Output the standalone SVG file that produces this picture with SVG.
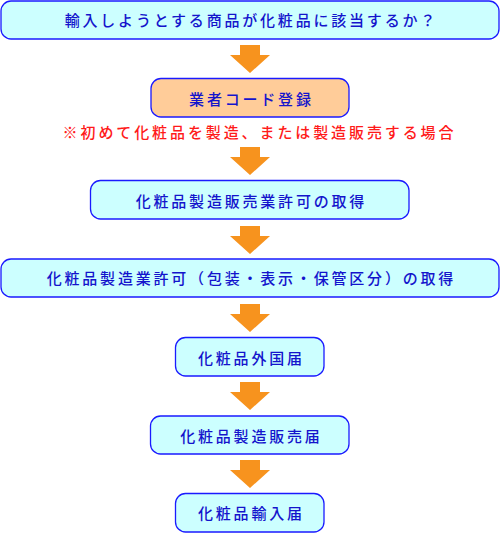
<svg xmlns="http://www.w3.org/2000/svg" width="500" height="533" viewBox="0 0 500 533">
<defs>
<style>
.box{fill:#CCFFFF;stroke:#1A1AFF;stroke-width:1.3}
.obox{fill:#FFCC99;stroke:#1A1AFF;stroke-width:1.3}
.t{font-family:"Noto Sans CJK JP","Noto Sans",sans-serif;font-size:15px;font-weight:500;fill:#1414CC;text-anchor:middle;letter-spacing:2.8px}
.note{font-family:"Noto Sans CJK JP","Noto Sans",sans-serif;font-size:15px;font-weight:500;fill:#FF1A1A;text-anchor:middle;letter-spacing:2.9px}
.arr{fill:#F7931E}
</style>
<path id="ar" d="M-10,0 H10 V10 H20 L0,28 L-20,10 H-10 Z"/>
</defs>
<rect width="500" height="533" fill="#FFFFFF"/>
<g id="connectors" class="arr">
<use href="#ar" x="250" y="45"/>
<use href="#ar" x="250" y="147"/>
<use href="#ar" x="250" y="226"/>
<use href="#ar" x="250" y="304"/>
<use href="#ar" x="250" y="382"/>
<use href="#ar" x="250" y="460"/>
</g>
<g id="n1"><rect class="box" x="1" y="1" width="498" height="38" rx="10"/><text class="t" x="251.4" y="25.5">輸入しようとする商品が化粧品に該当するか？</text></g>
<g id="n2"><rect class="obox" x="151" y="78.5" width="198" height="38.5" rx="10"/><text class="t" x="251.4" y="104.5">業者コード登録</text></g>
<text class="note" x="259.5" y="137.5">※初めて化粧品を製造、または製造販売する場合</text>
<g id="n3"><rect class="box" x="90.5" y="180.5" width="318.5" height="38.5" rx="10"/><text class="t" x="251.4" y="206.5">化粧品製造販売業許可の取得</text></g>
<g id="n4"><rect class="box" x="1" y="259" width="498" height="38" rx="10"/><text class="t" x="251.4" y="283.5">化粧品製造業許可（包装・表示・保管区分）の取得</text></g>
<g id="n5"><rect class="box" x="175.5" y="337.5" width="148.5" height="38.5" rx="10"/><text class="t" x="251.4" y="363.5">化粧品外国届</text></g>
<g id="n6"><rect class="box" x="150.5" y="416" width="198.5" height="38" rx="10"/><text class="t" x="251.4" y="442">化粧品製造販売届</text></g>
<g id="n7"><rect class="box" x="175.5" y="493.5" width="148.5" height="38.5" rx="10"/><text class="t" x="251.4" y="518.5">化粧品輸入届</text></g>
</svg>
